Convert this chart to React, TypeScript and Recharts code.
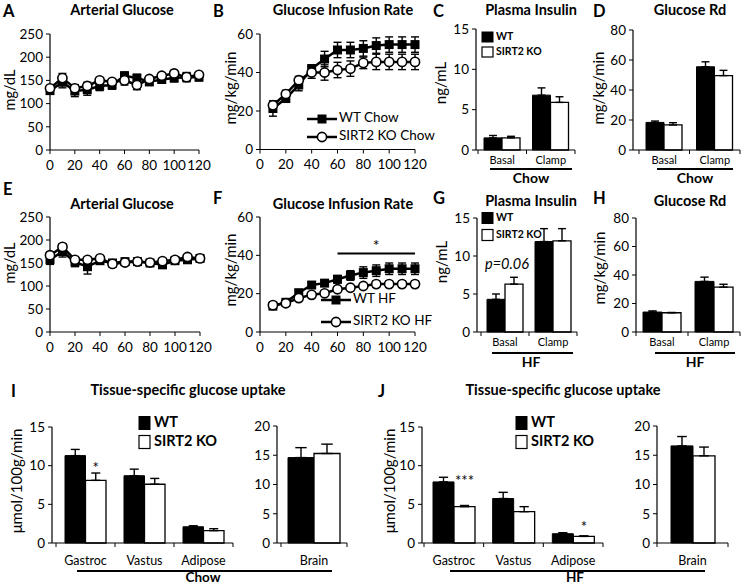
import React from 'react';
import { LineChart, Line, XAxis, YAxis, ErrorBar, BarChart, Bar, ReferenceLine, LabelList } from 'recharts';

const FONT = 'Lato, "Open Sans", "Liberation Sans", sans-serif';

// ---------- Time courses ----------
const timeGlucose = [0, 10, 20, 30, 40, 50, 60, 70, 80, 90, 100, 110, 120];
const timeGIR = [10, 20, 30, 40, 50, 60, 70, 80, 90, 100, 110, 120];
const timeTicks = [0, 20, 40, 60, 80, 100, 120];

const glucoseWTChow = [128, 146, 127, 130, 138, 140, 160, 155, 147, 152, 155, 157, 157];
const glucoseWTChowErr = [6, 12, 12, 12, 10, 9, 8, 8, 8, 8, 8, 10, 8];
const glucoseKOChow = [133, 155, 133, 138, 150, 147, 150, 140, 153, 160, 165, 157, 162];
const glucoseKOChowErr = [5, 10, 8, 8, 5, 5, 10, 10, 5, 5, 5, 5, 5];

const glucoseWTHF = [157, 175, 152, 142, 155, 150, 153, 153, 150, 146, 155, 157, 160];
const glucoseWTHFErr = [10, 12, 10, 16, 6, 5, 5, 5, 5, 6, 5, 5, 5];
const glucoseKOHF = [167, 185, 157, 157, 160, 148, 151, 153, 151, 154, 157, 163, 160];
const glucoseKOHFErr = [6, 7, 6, 5, 5, 5, 5, 5, 5, 5, 5, 5, 5];

const girWTChow = [21.3, 26.5, 33.5, 42, 47, 51.7, 51.7, 52.5, 54, 54.5, 54.5, 54.5];
const girWTChowErr = [4, 2, 3, 2, 4, 4, 4, 4, 4, 4, 4, 4];
const girKOChow = [23, 28.8, 36, 40, 40, 41.3, 42, 45, 45.5, 45.5, 45.5, 45.5];
const girKOChowErr = [2, 2, 2, 3, 4, 4, 4, 3, 4, 4, 4, 4];

const girWTHF = [13.5, 15.5, 20.5, 24.5, 25.5, 27.5, 29.5, 31, 32, 33, 33, 33];
const girWTHFErr = [1, 1, 1, 1.5, 1.5, 2, 2.5, 3, 3, 3, 3, 3];
const girKOHF = [14, 15, 17.7, 19.4, 20.2, 22.3, 23.1, 24, 25, 25, 25, 25];
const girKOHFErr = [1, 1, 1, 1, 1, 1, 1, 1, 1.5, 1.5, 1.5, 1.5];
const girSigStart = 60;
const girSigEnd = 120;
const girSigLevel = 41;

// ---------- Clamp bars ----------
const phases = ['Basal', 'Clamp'];
const insulinWTChow = [1.5, 6.8];
const insulinWTChowErr = [0.3, 0.9];
const insulinKOChow = [1.5, 5.9];
const insulinKOChowErr = [0.2, 0.7];
const rdWTChow = [18.4, 55.5];
const rdWTChowErr = [0.9, 3.3];
const rdKOChow = [16.7, 49.6];
const rdKOChowErr = [1.5, 3.5];

const insulinWTHF = [4.3, 11.9];
const insulinWTHFErr = [0.7, 1.7];
const insulinKOHF = [6.3, 12.0];
const insulinKOHFErr = [0.9, 1.6];
const rdWTHF = [14, 35.5];
const rdWTHFErr = [0.8, 3];
const rdKOHF = [13.5, 31.5];
const rdKOHFErr = [0.2, 2];

// ---------- Tissue uptake ----------
const tissues = ['Gastroc', 'Vastus', 'Adipose'];
const brainCat = ['Brain'];
const uptakeWTChow = [11.3, 8.7, 2.1];
const uptakeWTChowErr = [0.8, 0.85, 0.13];
const uptakeKOChow = [8.1, 7.6, 1.6];
const uptakeKOChowErr = [0.95, 0.75, 0.25];
const sigChow = ['*', '', ''];
const sigLevelChow = [10.1, 0, 0];
const brainWTChow = [14.6];
const brainWTChowErr = [1.7];
const brainKOChow = [15.3];
const brainKOChowErr = [1.6];

const uptakeWTHF = [7.9, 5.75, 1.2];
const uptakeWTHFErr = [0.6, 0.8, 0.13];
const uptakeKOHF = [4.7, 4.05, 0.85];
const uptakeKOHFErr = [0.15, 0.65, 0.08];
const sigHF = ['***', '', '*'];
const sigLevelHF = [8.4, 0, 2.5];
const brainWTHF = [16.6];
const brainWTHFErr = [1.6];
const brainKOHF = [14.9];
const brainKOHFErr = [1.5];

// ---------- helpers ----------
const tickStyle = { fontSize: 13.5, fill: '#000', fontFamily: FONT };

function SquareDot(p: any) {
  return <rect key={`s${p.index}`} x={p.cx - 4.5} y={p.cy - 4.5} width={9} height={9} fill="#000" />;
}
function CircleDot(p: any) {
  return <circle key={`c${p.index}`} cx={p.cx} cy={p.cy} r={4.6} fill="#fff" stroke="#000" strokeWidth={1.6} />;
}

function LinePanel(props: any) {
  const { l, r, t, b, yMax, yTicks, xs, wt, wtErr, ko, koErr, extra } = props;
  const YW = 40, XH = 30, MT = 8, MR = 12;
  const data = xs.map((x: number, i: number) => ({ t: x, wt: wt[i], wtErr: wtErr[i], ko: ko[i], koErr: koErr[i] }));
  return (
    <div style={{ position: 'absolute', left: l - YW, top: t - MT }}>
      <LineChart width={r - l + YW + MR} height={b - t + MT + XH} data={data} margin={{ top: MT, right: MR, left: 0, bottom: 0 }}>
        <XAxis dataKey="t" type="number" domain={[0, 120]} ticks={timeTicks} interval={0} height={XH}
          tickSize={4} tickMargin={6} axisLine={{ stroke: '#000', strokeWidth: 1.2 }} tickLine={{ stroke: '#000' }} tick={tickStyle} />
        <YAxis type="number" domain={[0, yMax]} ticks={yTicks} interval={0} width={YW}
          tickSize={4} tickMargin={3} axisLine={{ stroke: '#000', strokeWidth: 1.2 }} tickLine={{ stroke: '#000' }} tick={tickStyle} />
        <Line dataKey="wt" stroke="#000" strokeWidth={2.5} dot={SquareDot} activeDot={false} isAnimationActive={false}>
          <ErrorBar dataKey="wtErr" direction="y" width={4} stroke="#000" strokeWidth={1.4} />
        </Line>
        <Line dataKey="ko" stroke="#000" strokeWidth={2.5} dot={CircleDot} activeDot={false} isAnimationActive={false}>
          <ErrorBar dataKey="koErr" direction="y" width={4} stroke="#000" strokeWidth={1.4} />
        </Line>
        {extra}
      </LineChart>
    </div>
  );
}

const makeBandTick = (band: number, n: number, fontSize: number, dy: number) => (p: any) => {
  const { x, y, payload, index } = p;
  return (
    <g>
      <line x1={x - band / 2} x2={x - band / 2} y1={y} y2={y + 4} stroke="#000" />
      {index === n - 1 ? <line x1={x + band / 2} x2={x + band / 2} y1={y} y2={y + 4} stroke="#000" /> : null}
      <text x={x} y={y + dy} textAnchor="middle" dominantBaseline="middle" fontSize={fontSize} fontFamily={FONT} fill="#000">
        {payload.value}
      </text>
    </g>
  );
};

const makeSigLabel = (vals: number[], levels: number[]) => (p: any) => {
  const { x, y, width, height, value, index } = p;
  if (!value) return null;
  const perUnit = height / vals[index];
  const yy = y + height - levels[index] * perUnit;
  return (
    <text key={`sig${index}`} x={x + width / 2} y={yy + 8} textAnchor="middle" fontSize={15} fontFamily={FONT} fill="#000">
      {value}
    </text>
  );
};

function BarPanel(props: any) {
  const { l, r, t, b, yMax, yTicks, cats, wt, wtErr, ko, koErr, barSize, padLeft = 0, catFont = 11, catDy = 11, sig, sigLevel } = props;
  const YW = 40, XH = 30, MT = 8, MR = 6;
  const data = cats.map((c: string, i: number) => ({
    cat: c, wt: wt[i], ko: ko[i], wtErr: [0, wtErr[i]], koErr: [0, koErr[i]], sig: sig ? sig[i] : '',
  }));
  const band = (r - l - padLeft) / cats.length;
  return (
    <div style={{ position: 'absolute', left: l - YW, top: t - MT }}>
      <BarChart width={r - l + YW + MR} height={b - t + MT + XH} data={data} barGap={0}
        margin={{ top: MT, right: MR, left: 0, bottom: 0 }}>
        <XAxis dataKey="cat" type="category" height={XH} padding={{ left: padLeft, right: 0 }} interval={0}
          tickSize={0} tickMargin={0} tickLine={false} axisLine={{ stroke: '#000', strokeWidth: 1.2 }}
          tick={makeBandTick(band, cats.length, catFont, catDy)} />
        <YAxis type="number" domain={[0, yMax]} ticks={yTicks} interval={0} width={YW}
          tickSize={4} tickMargin={3} axisLine={{ stroke: '#000', strokeWidth: 1.2 }} tickLine={{ stroke: '#000' }} tick={tickStyle} />
        <Bar dataKey="wt" fill="#000" stroke="#000" strokeWidth={1} barSize={barSize} isAnimationActive={false}>
          <ErrorBar dataKey="wtErr" direction="y" width={barSize * 0.22} stroke="#000" strokeWidth={1.4} />
        </Bar>
        <Bar dataKey="ko" fill="#fff" stroke="#000" strokeWidth={1.3} barSize={barSize} isAnimationActive={false}>
          <ErrorBar dataKey="koErr" direction="y" width={barSize * 0.22} stroke="#000" strokeWidth={1.4} />
          {sig ? <LabelList dataKey="sig" content={makeSigLabel(ko, sigLevel)} /> : null}
        </Bar>
      </BarChart>
    </div>
  );
}

function Txt(p: any) {
  const { x, y, children, size = 13, bold = false, anchor = 'middle', rotate = false, italic = false } = p;
  return (
    <text x={x} y={y} textAnchor={anchor} dominantBaseline="middle" fontSize={size} fontFamily={FONT}
      fontWeight={bold ? 700 : 400} fontStyle={italic ? 'italic' : 'normal'} fill="#000"
      transform={rotate ? `rotate(-90 ${x} ${y})` : undefined}>
      {children}
    </text>
  );
}

function LineLegend({ x, y, square, label }: any) {
  return (
    <g>
      <line x1={x} x2={x + 30} y1={y} y2={y} stroke="#000" strokeWidth={2.5} />
      {square ? <rect x={x + 10.5} y={y - 4.5} width={9} height={9} fill="#000" />
        : <circle cx={x + 15} cy={y} r={4.6} fill="#fff" stroke="#000" strokeWidth={1.6} />}
      <Txt x={x + 32} y={y} anchor="start" size={13.5}>{label}</Txt>
    </g>
  );
}

function BoxLegend({ x, y1, y2, w, h, size, gap }: any) {
  return (
    <g>
      <rect x={x} y={y1 - h / 2} width={w} height={h} fill="#000" stroke="#000" />
      <Txt x={x + w + gap} y={y1} anchor="start" size={size} bold>WT</Txt>
      <rect x={x} y={y2 - h / 2} width={w} height={h} fill="#fff" stroke="#000" strokeWidth={1.2} />
      <Txt x={x + w + gap} y={y2} anchor="start" size={size} bold>SIRT2 KO</Txt>
    </g>
  );
}

function Overlay() {
  const L = 16.5, TS = 14.5, AX = 15;
  return (
    <svg width={750} height={586} style={{ position: 'absolute', left: 0, top: 0, pointerEvents: 'none' }}>
      {/* row 1 */}
      <Txt x={3} y={12.5} anchor="start" size={L} bold>A</Txt>
      <Txt x={122} y={11} size={TS} bold>Arterial Glucose</Txt>
      <Txt x={213} y={12.5} anchor="start" size={L} bold>B</Txt>
      <Txt x={343} y={11} size={TS} bold>Glucose Infusion Rate</Txt>
      <Txt x={433} y={12.5} anchor="start" size={L} bold>C</Txt>
      <Txt x={531} y={11} size={TS} bold>Plasma Insulin</Txt>
      <Txt x={593} y={12.5} anchor="start" size={L} bold>D</Txt>
      <Txt x={690} y={11} size={TS} bold>Glucose Rd</Txt>
      <Txt x={11} y={90} size={14.5} rotate>mg/dL</Txt>
      <Txt x={232} y={88} size={AX} rotate>mg/kg/min</Txt>
      <Txt x={442} y={83} size={AX} rotate>ng/mL</Txt>
      <Txt x={600} y={88} size={AX} rotate>mg/kg/min</Txt>
      <LineLegend x={307} y={119} square label="WT Chow" />
      <LineLegend x={307} y={137} label="SIRT2 KO Chow" />
      <BoxLegend x={482} y1={37} y2={52} w={11} h={10} size={10.5} gap={3} />
      <line x1={490} x2={572} y1={169} y2={169} stroke="#000" strokeWidth={2} />
      <Txt x={531} y={179} size={14} bold>Chow</Txt>
      <line x1={657} x2={733} y1={169} y2={169} stroke="#000" strokeWidth={2} />
      <Txt x={695} y={179} size={14} bold>Chow</Txt>

      {/* row 2 */}
      <Txt x={3} y={191} anchor="start" size={L} bold>E</Txt>
      <Txt x={122} y={205} size={TS} bold>Arterial Glucose</Txt>
      <Txt x={213} y={200} anchor="start" size={L} bold>F</Txt>
      <Txt x={343} y={205} size={TS} bold>Glucose Infusion Rate</Txt>
      <Txt x={433} y={200} anchor="start" size={L} bold>G</Txt>
      <Txt x={531} y={202} size={TS} bold>Plasma Insulin</Txt>
      <Txt x={593} y={200} anchor="start" size={L} bold>H</Txt>
      <Txt x={690} y={202} size={TS} bold>Glucose Rd</Txt>
      <Txt x={11} y={263} size={14.5} rotate>mg/dL</Txt>
      <Txt x={232} y={270} size={AX} rotate>mg/kg/min</Txt>
      <Txt x={443} y={262} size={AX} rotate>ng/mL</Txt>
      <Txt x={601} y={268} size={AX} rotate>mg/kg/min</Txt>
      <LineLegend x={321} y={300} square label="WT HF" />
      <LineLegend x={321} y={322} label="SIRT2 KO HF" />
      <BoxLegend x={482} y1={218} y2={235} w={11} h={11} size={10.5} gap={3} />
      <Txt x={507} y={265} size={14.5} italic>p=0.06</Txt>
      <line x1={492} x2={573} y1={353} y2={353} stroke="#000" strokeWidth={2} />
      <Txt x={531} y={363} size={14} bold>HF</Txt>
      <line x1={655} x2={735} y1={353} y2={353} stroke="#000" strokeWidth={2} />
      <Txt x={695} y={363} size={14} bold>HF</Txt>

      {/* row 3 */}
      <Txt x={11} y={393} anchor="start" size={L} bold>I</Txt>
      <Txt x={188} y={391} size={TS} bold>Tissue-specific glucose uptake</Txt>
      <Txt x={378} y={393} anchor="start" size={L} bold>J</Txt>
      <Txt x={563} y={391} size={TS} bold>Tissue-specific glucose uptake</Txt>
      <Txt x={18} y={481} size={AX} rotate>μmol/100g/min</Txt>
      <Txt x={391} y={481} size={AX} rotate>μmol/100g/min</Txt>
      <BoxLegend x={139} y1={423} y2={442} w={11} h={13} size={14.5} gap={4} />
      <BoxLegend x={516} y1={423} y2={442} w={11} h={13} size={14.5} gap={4} />
      <line x1={77} x2={332} y1={571} y2={571} stroke="#000" strokeWidth={2} />
      <Txt x={203} y={579} size={13.5} bold>Chow</Txt>
      <line x1={450} x2={705} y1={571} y2={571} stroke="#000" strokeWidth={2} />
      <Txt x={575} y={579} size={13.5} bold>HF</Txt>
    </svg>
  );
}

export default function App() {
  const girSig = (
    <ReferenceLine segment={[{ x: girSigStart, y: girSigLevel }, { x: girSigEnd, y: girSigLevel }]}
      stroke="#000" strokeWidth={2} ifOverflow="visible"
      label={{ value: '*', position: 'top', fill: '#000', fontSize: 16, offset: 2, fontFamily: FONT }} />
  );
  return (
    <div style={{ position: 'absolute', left: 0, top: 0, width: 750, height: 586, background: '#fff', overflow: 'hidden' }}>
      <LinePanel l={50} r={199} t={34} b={150} yMax={250} yTicks={[0, 50, 100, 150, 200, 250]}
        xs={timeGlucose} wt={glucoseWTChow} wtErr={glucoseWTChowErr} ko={glucoseKOChow} koErr={glucoseKOChowErr} />
      <LinePanel l={260} r={415} t={34} b={149.5} yMax={60} yTicks={[0, 20, 40, 60]}
        xs={timeGIR} wt={girWTChow} wtErr={girWTChowErr} ko={girKOChow} koErr={girKOChowErr} />
      <BarPanel l={476} r={575} t={29} b={150} yMax={15} yTicks={[0, 5, 10, 15]} cats={phases}
        wt={insulinWTChow} wtErr={insulinWTChowErr} ko={insulinKOChow} koErr={insulinKOChowErr} barSize={18} padLeft={2} />
      <BarPanel l={633} r={740} t={30} b={150} yMax={80} yTicks={[0, 20, 40, 60, 80]} cats={phases}
        wt={rdWTChow} wtErr={rdWTChowErr} ko={rdKOChow} koErr={rdKOChowErr} barSize={18} padLeft={6} />

      <LinePanel l={50} r={200} t={217} b={332} yMax={250} yTicks={[0, 50, 100, 150, 200, 250]}
        xs={timeGlucose} wt={glucoseWTHF} wtErr={glucoseWTHFErr} ko={glucoseKOHF} koErr={glucoseKOHFErr} />
      <LinePanel l={260} r={415} t={217} b={332} yMax={60} yTicks={[0, 20, 40, 60]}
        xs={timeGIR} wt={girWTHF} wtErr={girWTHFErr} ko={girKOHF} koErr={girKOHFErr} extra={girSig} />
      <BarPanel l={477} r={577} t={218} b={332} yMax={15} yTicks={[0, 5, 10, 15]} cats={phases}
        wt={insulinWTHF} wtErr={insulinWTHFErr} ko={insulinKOHF} koErr={insulinKOHFErr} barSize={18} padLeft={4} />
      <BarPanel l={636} r={740} t={218} b={332} yMax={80} yTicks={[0, 20, 40, 60, 80]} cats={phases}
        wt={rdWTHF} wtErr={rdWTHFErr} ko={rdKOHF} koErr={rdKOHFErr} barSize={19} padLeft={0} />

      <BarPanel l={52} r={233} t={427} b={543} yMax={15} yTicks={[0, 5, 10, 15]} cats={tissues}
        wt={uptakeWTChow} wtErr={uptakeWTChowErr} ko={uptakeKOChow} koErr={uptakeKOChowErr} barSize={20.5} padLeft={4}
        catFont={12.5} catDy={19} sig={sigChow} sigLevel={sigLevelChow} />
      <BarPanel l={277} r={347} t={426} b={543} yMax={20} yTicks={[0, 5, 10, 15, 20]} cats={brainCat}
        wt={brainWTChow} wtErr={brainWTChowErr} ko={brainKOChow} koErr={brainKOChowErr} barSize={26} padLeft={4}
        catFont={12.5} catDy={19} />
      <BarPanel l={422} r={603} t={427} b={543} yMax={15} yTicks={[0, 5, 10, 15]} cats={tissues}
        wt={uptakeWTHF} wtErr={uptakeWTHFErr} ko={uptakeKOHF} koErr={uptakeKOHFErr} barSize={21} padLeft={2}
        catFont={12.5} catDy={19} sig={sigHF} sigLevel={sigLevelHF} />
      <BarPanel l={657} r={728} t={426} b={543} yMax={20} yTicks={[0, 5, 10, 15, 20]} cats={brainCat}
        wt={brainWTHF} wtErr={brainWTHFErr} ko={brainKOHF} koErr={brainKOHFErr} barSize={22} padLeft={0}
        catFont={12.5} catDy={19} />
      <Overlay />
    </div>
  );
}
